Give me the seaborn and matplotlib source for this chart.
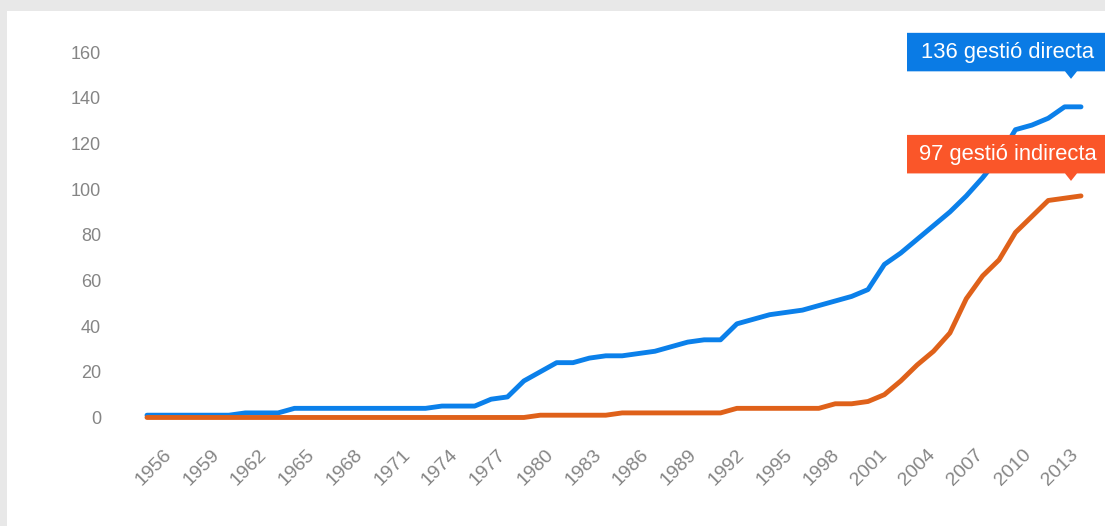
import matplotlib
matplotlib.use("Agg")
import matplotlib.pyplot as plt
import numpy as np
import pandas as pd
import seaborn as sns
from matplotlib.patches import Polygon, Rectangle
from matplotlib import transforms as mtransforms

# ---- data -------------------------------------------------------------
years = list(range(1956, 2014))

gestio_directa = [
    1, 1, 1, 1, 1, 1,                 # 1956-1961
    2, 2, 2,                          # 1962-1964
    4, 4, 4, 4, 4, 4, 4, 4, 4,        # 1965-1973
    5, 5, 5, 8, 9, 16, 20, 24, 24,    # 1974-1982
    26, 27, 27, 28, 29, 31, 33, 34, 34,  # 1983-1991
    41, 43, 45, 46, 47, 49, 51, 53, 56,  # 1992-2000
    67, 72, 78, 84, 90, 97, 105, 114,    # 2001-2008
    126, 128, 131, 136, 136,             # 2009-2013
]

gestio_indirecta = (
    [0] * 24                          # 1956-1979
    + [1] * 5                         # 1980-1984
    + [2] * 7                         # 1985-1991
    + [4] * 6                         # 1992-1997
    + [6, 6, 7, 10, 16, 23, 29, 37,   # 1998-2005
       52, 62, 69, 81, 88, 95, 96, 97]  # 2006-2013
)

series_names = ["gestió directa", "gestió indirecta"]
callout_values = [136, 97]
tick_years = years[::3]
y_ticks = [0, 20, 40, 60, 80, 100, 120, 140, 160]

line_colors = {"gestió directa": "#0b80ea", "gestió indirecta": "#df611a"}
box_colors = {"gestió directa": "#0a7be5", "gestió indirecta": "#fa5629"}

df = pd.DataFrame({
    "any": years * 2,
    "equipaments": gestio_directa + gestio_indirecta,
    "gestió": [series_names[0]] * len(years) + [series_names[1]] * len(years),
})

# ---- style ------------------------------------------------------------
sns.set_theme(style="white")
plt.rcParams["font.family"] = ["Liberation Sans", "DejaVu Sans"]

W, H = 1105, 526
fig = plt.figure(figsize=(W / 100, H / 100), dpi=100)
fig.patch.set_facecolor("#e8e8e8")
fig.add_artist(Rectangle((7 / W, 0), (W - 7) / W, (H - 11) / H,
                         transform=fig.transFigure, facecolor="white",
                         edgecolor="none", zorder=-5))

ax_bottom_px, ax_top_px = 428.9, 40.6
ax = fig.add_axes([147 / W, (H - ax_bottom_px) / H, 934 / W,
                   (ax_bottom_px - ax_top_px) / H])
ax.set_facecolor("none")

sns.lineplot(data=df, x="any", y="equipaments", hue="gestió",
             hue_order=series_names, palette=line_colors, linewidth=3.5,
             legend=False, ax=ax, solid_capstyle="round",
             solid_joinstyle="round", clip_on=False)

ax.set_xlim(1956, 2013)
ax.set_ylim(-5, 165)
ax.set_yticks(y_ticks)
ax.set_xticks([])
ax.set_xlabel("")
ax.set_ylabel("")
ax.tick_params(axis="y", length=0, pad=33, labelsize=13, labelcolor="#858585")
for s in ax.spines.values():
    s.set_visible(False)

# year labels on a slightly compressed companion axis
lab_a, lab_b = 0.97109, 1957.343
sec = ax.secondary_xaxis(
    "bottom",
    functions=(lambda x: 1956 + (np.asarray(x) - lab_b) / lab_a,
               lambda s: lab_b + (np.asarray(s) - 1956) * lab_a))
sec.set_xticks(tick_years)
sec.set_xticklabels([str(y) for y in tick_years], rotation=45, ha="right",
                    va="center", rotation_mode="anchor")
sec.tick_params(length=0, pad=16.6, labelsize=14, labelcolor="#858585")
for s in sec.spines.values():
    s.set_visible(False)

# ---- callouts at the last year -----------------------------------------
tip_offsets = {"gestió directa": (-10, 28), "gestió indirecta": (-10, 15)}
ident = mtransforms.IdentityTransform()
for name, val in zip(series_names, callout_values):
    px, py = ax.transData.transform((years[-1], val))
    dx, dy = tip_offsets[name]
    tx, ty = px + dx, py + dy
    bottom = ty + 7.5
    top = bottom + 38.5
    left = tx - 164
    right = tx + 38
    verts = [(left, bottom), (tx - 6, bottom), (tx, ty), (tx + 6, bottom),
             (right, bottom), (right, top), (left, top)]
    fig.add_artist(Polygon(verts, closed=True, transform=ident,
                           facecolor=box_colors[name], edgecolor="none",
                           zorder=5))
    fig.text((left + right) / 2 / W, (bottom + top) / 2 / H,
             f"{val} {name}", ha="center", va="center", color="white",
             fontsize=15.8, zorder=6)

fig.savefig("out.png", dpi=100, facecolor=fig.get_facecolor())
